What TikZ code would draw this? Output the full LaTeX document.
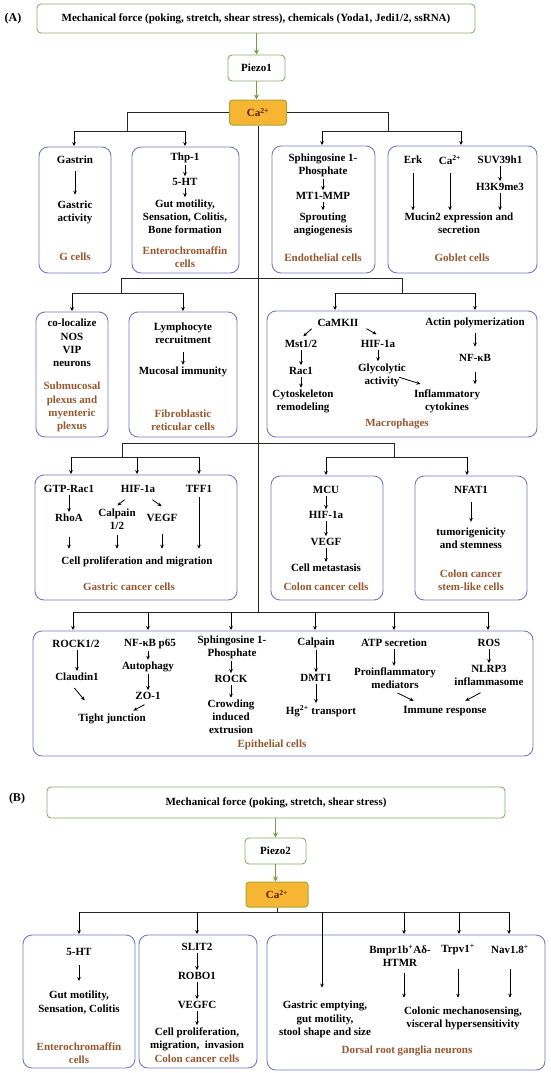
\documentclass[tikz,border=0pt]{standalone}
\usepackage{fontspec}
\setmainfont{Liberation Serif}
\usetikzlibrary{arrows.meta}
\definecolor{boxblue}{RGB}{118,122,196}
\definecolor{labbrown}{RGB}{150,88,48}
\definecolor{topgreen}{RGB}{140,172,108}
\definecolor{greenarr}{RGB}{112,160,72}
\definecolor{caorange}{RGB}{246,182,52}
\definecolor{caedge}{RGB}{168,168,48}
\definecolor{catext}{RGB}{90,30,10}
\begin{document}
\begin{tikzpicture}[x=1pt,y=-1pt,
  txt/.style={font=\bfseries\fontsize{11}{13.2}\selectfont,align=center,inner sep=1.5pt},
  lab/.style={txt,text=labbrown},
  cellbox/.style={draw=boxblue,line width=0.9pt,rounded corners=9pt,inner sep=0pt},
  topbox/.style={txt,draw=topgreen,line width=0.9pt,rounded corners=4pt,fill=white},
  cabox/.style={txt,draw=caedge,fill=caorange,line width=1pt,rounded corners=3pt,text=catext},
  arr/.style={black,line width=0.8pt,-{Stealth[length=4pt,width=3.6pt]},shorten <=0.5pt,shorten >=0.5pt},
  garr/.style={greenarr,line width=1.8pt,-{Stealth[length=5pt,width=5pt]}},
  tree/.style={black!85,line width=0.8pt}]

\useasboundingbox [fill=white] (0,0) rectangle (550,1073);

%% (A)
\node [txt,font=\bfseries\fontsize{12}{14}\selectfont] (labA) at (13,19) {(A)};
\node [topbox,minimum width=438,minimum height=29] (topA) at (256,18.5) {Mechanical force (poking, stretch, shear stress), chemicals (Yoda1, Jedi1/2, ssRNA)};
\node [topbox,minimum width=57,minimum height=26] (piezo1) at (256.5,68) {Piezo1};
\node [cabox,minimum width=57,minimum height=25] (caA) at (258,112.5) {Ca\textsuperscript{2+}};

\draw [garr] (topA.south -| piezo1) -- (piezo1.north);
\draw [garr] (piezo1.south) -- (piezo1.south |- caA.north);

\node [cellbox,minimum width=72,minimum height=126] (gbox) at (75,210) {};
\node [cellbox,minimum width=107,minimum height=126] (ecbox) at (185.5,210) {};
\node [cellbox,minimum width=103,minimum height=127] (endbox) at (323.5,209.5) {};
\node [cellbox,minimum width=149,minimum height=127] (gobbox) at (462.5,209.5) {};

\node [cellbox,minimum width=72,minimum height=125] (subbox) at (72,374.5) {};
\node [cellbox,minimum width=108,minimum height=125] (fibbox) at (183,374.5) {};
\node [cellbox,minimum width=270,minimum height=126] (macbox) at (402,374) {};

\node [cellbox,minimum width=202,minimum height=125] (gcbox) at (136,537.5) {};
\node [cellbox,minimum width=112,minimum height=124] (ccbox) at (327,538) {};
\node [cellbox,minimum width=112,minimum height=124] (nfbox) at (471,538) {};

\node [cellbox,minimum width=500,minimum height=125] (epbox) at (283,693.5) {};

\coordinate (jl) at (127,131);
\coordinate (gl) at (74,131);
\coordinate (el) at (185,131);
\coordinate (jr) at (388,131);
\coordinate (nl) at (322,131);
\coordinate (ol) at (461,131);
\draw [tree] (caA.west) -| (jl);
\draw [tree] (gl) -- (el);
\draw [tree] (caA.east) -| (jr);
\draw [tree] (nl) -- (ol);
\draw [arr,shorten <=0pt] (gl) -- (gl |- gbox.north);
\draw [arr,shorten <=0pt] (el) -- (el |- ecbox.north);
\draw [arr,shorten <=0pt] (nl) -- (nl |- endbox.north);
\draw [arr,shorten <=0pt] (ol) -- (ol |- gobbox.north);

\foreach \x [count=\i] in {73,148,231,315,394,488}
  \coordinate (e\i) at (\x,612);
\draw [tree] (caA.south) -- (caA.south |- e1);
\draw [tree] (e1) -- (e6);
\foreach \i in {1,...,6}
  \draw [arr,shorten <=0pt] (e\i) -- (e\i |- epbox.north);

\coordinate (r2l) at (121,278);
\coordinate (r2r) at (402,278);
\coordinate (sb) at (72,293);
\coordinate (fb) at (183,293);
\coordinate (ma) at (335,293);
\coordinate (mb) at (475,293);
\draw [tree] (r2l) -- (r2r);
\draw [tree] (r2l) -- (r2l |- sb);
\draw [tree] (sb) -- (fb);
\draw [tree] (r2r) -- (r2r |- ma);
\draw [tree] (ma) -- (mb);
\draw [arr,shorten <=0pt] (sb) -- (sb |- subbox.north);
\draw [arr,shorten <=0pt] (fb) -- (fb |- fibbox.north);
\draw [arr,shorten <=0pt] (ma) -- (ma |- macbox.north);
\draw [arr,shorten <=0pt] (mb) -- (mb |- macbox.north);

\coordinate (r3l) at (122,443);
\coordinate (r3r) at (394,443);
\coordinate (ga) at (71,457);
\coordinate (gb) at (137,457);
\coordinate (gc) at (199,457);
\coordinate (ca) at (326,457);
\coordinate (cb) at (467,457);
\draw [tree] (r3l) -- (r3r);
\draw [tree] (r3l) -- (r3l |- ga);
\draw [tree] (ga) -- (gc);
\draw [tree] (r3r) -- (r3r |- ca);
\draw [tree] (ca) -- (cb);
\foreach \c in {ga,gb,gc}
  \draw [arr,shorten <=0pt] (\c) -- (\c |- gcbox.north);
\draw [arr,shorten <=0pt] (ca) -- (ca |- ccbox.north);
\draw [arr,shorten <=0pt] (cb) -- (cb |- nfbox.north);

%% row 1
\node [txt] (gastrin) at (75,160) {Gastrin};
\node [txt] (gasact) at (75,212.5) {Gastric\\activity};
\node [lab] (glab) at (75,257) {G cells};
\draw [arr,shorten <=5pt,shorten >=4.5pt] (gastrin) -- (gasact);

\node [txt] (thp) at (185,158) {Thp-1};
\node [txt] (ht) at (185,182) {5-HT};
\node [txt] (gut) at (185,216.5) {Gut motility,\\Sensation, Colitis,\\Bone formation};
\node [lab] (eclab) at (185,257.5) {Enterochromaffin\\cells};
\draw [arr] (thp) -- (ht);
\draw [arr] (ht) -- (gut);

\node [txt] (sph) at (323,165) {Sphingosine 1-\\Phosphate};
\node [txt] (mt) at (323,196) {MT1-MMP};
\node [txt] (spr) at (323,224) {Sprouting\\angiogenesis};
\node [lab] (endlab) at (323,258) {Endothelial cells};
\draw [arr] (sph) -- (mt);
\draw [arr] (mt) -- (spr);

\node [txt] (erk) at (413,160) {Erk};
\node [txt] (ca2) at (450,160) {Ca\textsuperscript{2+}};
\node [txt] (suv) at (500,160) {SUV39h1};
\node [txt] (h3k) at (500,187) {H3K9me3};
\node [txt] (muc) at (459,223) {Mucin2 expression and\\secretion};
\node [lab] (goblab) at (462,258) {Goblet cells};
\draw [arr,shorten <=7pt] (erk.south) -- (erk.south |- muc.north);
\draw [arr,shorten <=7pt] (ca2.south) -- (ca2.south |- muc.north);
\draw [arr] (suv) -- (h3k);
\draw [arr] (h3k.south) -- (h3k.south |- muc.north);

%% row 2
\node [txt] (coloc) at (72,343) {co-localize\\NOS\\VIP\\neurons};
\node [lab] (sublab) at (72,407) {Submucosal\\plexus and\\myenteric\\plexus};

\node [txt] (lymph) at (183,333.5) {Lymphocyte\\recruitment};
\node [txt] (mucim) at (183,372) {Mucosal immunity};
\node [lab] (fiblab) at (183,420.5) {Fibroblastic\\reticular cells};
\draw [arr,shorten <=6.5pt] (lymph) -- (mucim);

\node [txt] (camk) at (338,323) {CaMKII};
\node [txt] (mst) at (301,344) {Mst1/2};
\node [txt] (hifm) at (378,344) {HIF-1a};
\node [txt] (rac) at (301,371) {Rac1};
\node [txt] (cyto) at (303,401.5) {Cytoskeleton\\remodeling};
\node [txt] (gly) at (382,375) {Glycolytic\\activity};
\node [txt] (infl) at (447,401.5) {Inflammatory\\cytokines};
\node [txt] (actin) at (475,323) {Actin polymerization};
\node [txt] (nfkb) at (475,358) {NF-κB};
\node [lab] (macl) at (397,424) {Macrophages};
\draw [arr] ([shift={(-26,0)}]camk.south) -- ([shift={(2,-2)}]mst.north);
\draw [arr] ([shift={(28,0)}]camk.south) -- ([shift={(-1,-4)}]hifm.north);
\draw [arr] (mst) -- (rac);
\draw [arr] (rac.south) -- (rac.south |- cyto.north);
\draw [arr] (hifm.south) -- (hifm.south |- gly.north);
\draw [arr] ([shift={(-9,2)}]gly.east) -- ([shift={(-26,-4)}]infl.north);
\draw [arr,shorten <=3.5pt,shorten >=6pt] (actin) -- (nfkb);
\draw [arr,shorten <=9pt,shorten >=4pt] (nfkb.south) -- (nfkb.south |- infl.north);

%% row 3
\node [txt] (gtp) at (69,489) {GTP-Rac1};
\node [txt] (hifg) at (138,489) {HIF-1a};
\node [txt] (tff) at (199,489) {TFF1};
\node [txt] (rhoa) at (69,518) {RhoA};
\node [txt] (calp) at (117,519) {Calpain\\1/2};
\node [txt] (vegfg) at (162,518) {VEGF};
\node [txt] (cpm) at (137,562) {Cell proliferation and migration};
\node [lab] (gclab) at (129,587) {Gastric cancer cells};
\draw [arr] (gtp) -- (rhoa);
\draw [arr] ([shift={(-13,5)}]hifg.south) -- ([shift={(0,-1)}]calp.north);
\draw [arr] ([shift={(14,5)}]hifg.south) -- ([shift={(0,-6)}]vegfg.north);
\draw [arr,shorten <=13pt,shorten >=6.5pt] (rhoa.south) -- (rhoa.south |- cpm.north);
\draw [arr,shorten <=4pt,shorten >=6.5pt] (calp.south) -- (calp.south |- cpm.north);
\draw [arr,shorten <=11pt,shorten >=6.5pt] (vegfg.south) -- (vegfg.south |- cpm.north);
\draw [arr,shorten <=3pt,shorten >=6.5pt] (tff.south) -- (tff.south |- cpm.north);

\node [txt] (mcu) at (326,490) {MCU};
\node [txt] (hifc) at (326,515) {HIF-1a};
\node [txt] (vegfc) at (326,542) {VEGF};
\node [txt] (meta) at (326,568) {Cell metastasis};
\node [lab] (cclab) at (326,587) {Colon cancer cells};
\draw [arr] (mcu) -- (hifc);
\draw [arr] (hifc) -- (vegfc);
\draw [arr] (vegfc) -- (meta);

\node [txt] (nfat) at (471,490) {NFAT1};
\node [txt] (tum) at (471,538) {tumorigenicity\\and stemness};
\node [lab] (nflab) at (471,580) {Colon cancer\\stem-like cells};
\draw [arr,shorten <=7pt,shorten >=4pt] (nfat) -- (tum);

%% row 4
\node [txt] (rock12) at (76,644) {ROCK1/2};
\node [txt] (cld) at (77,677) {Claudin1};
\node [txt] (tj) at (112,719) {Tight junction};
\node [txt] (nfp) at (150,644) {NF-κB p65};
\node [txt] (auto) at (148,667) {Autophagy};
\node [txt] (zo) at (148,696) {ZO-1};
\node [txt] (sph2) at (232,647) {Sphingosine 1-\\Phosphate};
\node [txt] (rock) at (231,679) {ROCK};
\node [txt] (crowd) at (231,717) {Crowding\\induced\\extrusion};
\node [txt] (calpe) at (316,643) {Calpain};
\node [txt] (dmt) at (316,678) {DMT1};
\node [txt] (hg) at (321,711) {Hg\textsuperscript{2+} transport};
\node [txt] (atp) at (394,643) {ATP secretion};
\node [txt] (proi) at (395,678.5) {Proinflammatory\\mediators};
\node [txt] (ros) at (489,643) {ROS};
\node [txt] (nlrp) at (489,675.5) {NLRP3\\inflammasome};
\node [txt] (imm) at (445,711) {Immune response};
\node [lab] (eplab) at (272,745) {Epithelial cells};
\draw [arr] (rock12.south -| cld) -- (cld);
\draw [arr] ([shift={(-3,5)}]cld.south) -- ([shift={(-27,-11.5)}]tj.north);
\draw [arr] (nfp.south -| auto) -- (auto);
\draw [arr] (auto) -- (zo);
\draw [arr] ([shift={(-3,3)}]zo.south) -- ([shift={(21,-1.5)}]tj.north);
\draw [arr] (sph2.south -| rock) -- (rock);
\draw [arr] (rock) -- (crowd);
\draw [arr] (calpe) -- (dmt);
\draw [arr] (dmt.south) -- (dmt.south |- hg.north);
\draw [arr] (atp.south) -- (atp.south |- proi.north);
\draw [arr] ([shift={(2,2)}]proi.south) -- ([shift={(-31,-3.5)}]imm.north);
\draw [arr] (ros) -- (nlrp);
\draw [arr] ([shift={(-8,5)}]nlrp.south) -- ([shift={(20,-3.5)}]imm.north);

%% (B)
\node [txt,font=\bfseries\fontsize{12}{14}\selectfont] (labB) at (17,799) {(B)};
\node [topbox,minimum width=458,minimum height=31] (topB) at (276,802.5) {Mechanical force (poking, stretch, shear stress)};
\node [topbox,minimum width=61,minimum height=26] (piezo2) at (275.5,851) {Piezo2};
\node [cabox,minimum width=62,minimum height=25] (caB) at (277,894.5) {Ca\textsuperscript{2+}};
\draw [garr] (topB.south -| piezo2) -- (piezo2.north);
\draw [garr] (piezo2.south) -- (piezo2.south |- caB.north);

\node [cellbox,minimum width=112,minimum height=133] (ec2box) at (79,1001.5) {};
\node [cellbox,minimum width=118,minimum height=133] (slbox) at (198,1001.5) {};
\node [cellbox,minimum width=278,minimum height=135] (drgbox) at (406,1002.5) {};

\foreach \x [count=\i] in {79,197,322,404,459,509}
  \coordinate (b\i) at (\x,912);
\draw [tree] (caB.south) -- (caB.south |- b1);
\draw [tree] (b1) -- (b6);
\draw [arr,shorten <=0pt] (b1) -- (b1 |- ec2box.north);
\draw [arr,shorten <=0pt] (b2) -- (b2 |- slbox.north);
\foreach \i in {4,5,6}
  \draw [arr,shorten <=0pt] (b\i) -- (b\i |- drgbox.north);

\node [txt] (ht2) at (79,952) {5-HT};
\node [txt] (gut2) at (79,1002.5) {Gut motility,\\Sensation, Colitis};
\node [lab] (ec2lab) at (79,1053.5) {Enterochromaffin\\cells};
\draw [arr,shorten <=8pt,shorten >=8.5pt] (ht2) -- (gut2);

\node [txt] (slit) at (197,947) {SLIT2};
\node [txt] (robo) at (197,976) {ROBO1};
\node [txt] (vegfcb) at (197,1005) {VEGFC};
\node [txt] (cpmi) at (197,1039) {Cell proliferation,\\migration,~~invasion};
\node [lab] (cc2lab) at (197,1059) {Colon cancer cells};
\draw [arr] (slit) -- (robo);
\draw [arr] (robo) -- (vegfcb);
\draw [arr] (vegfcb) -- (cpmi);

\node [txt] (bmpr) at (400,955.5) {Bmpr1b\textsuperscript{+}Aδ-\\HTMR};
\node [txt] (trpv) at (458,949) {Trpv1\textsuperscript{+}};
\node [txt] (nav) at (510,949) {Nav1.8\textsuperscript{+}};
\node [txt] (gastr) at (325,1019.5) {Gastric emptying,\\gut motility,\\stool shape and size};
\node [txt] (colon) at (463,1018) {Colonic mechanosensing,\\visceral hypersensitivity};
\node [lab] (drglab) at (407,1051) {Dorsal root ganglia neurons};
\draw [arr,shorten <=0pt,shorten >=12pt] (b3) -- (b3 |- gastr.north);
\draw [arr,shorten <=5.5pt,shorten >=7pt] ([xshift=4pt]bmpr.south) -- ([xshift=4pt]bmpr.south |- colon.north);
\draw [arr,shorten <=12.5pt,shorten >=7pt] (trpv.south) -- (trpv.south |- colon.north);
\draw [arr,shorten <=14pt,shorten >=7pt] (nav.south) -- (nav.south |- colon.north);

\end{tikzpicture}
\end{document}
